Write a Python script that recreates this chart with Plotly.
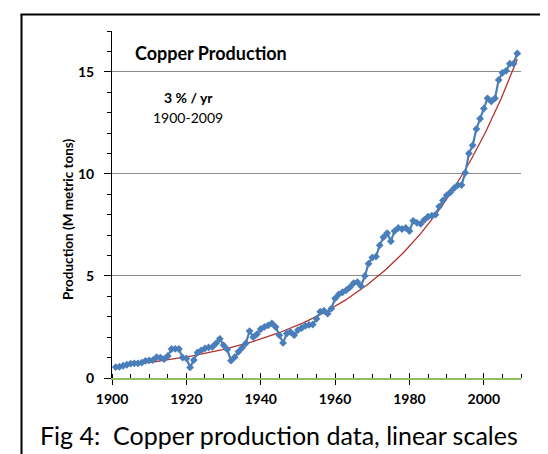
import numpy as np
import plotly.graph_objects as go

# ---- data ----
years = list(range(1901, 2010))
production = [
    0.53, 0.55, 0.60, 0.65, 0.70, 0.72, 0.72, 0.75, 0.84, 0.86,   # 1901-1910
    0.88, 1.02, 1.00, 0.92, 1.08, 1.42, 1.43, 1.42, 1.00, 0.96,   # 1911-1920
    0.52, 0.88, 1.25, 1.35, 1.45, 1.50, 1.52, 1.70, 1.92, 1.60,   # 1921-1930
    1.40, 0.85, 1.02, 1.28, 1.48, 1.70, 2.30, 2.00, 2.15, 2.40,   # 1931-1940
    2.50, 2.58, 2.68, 2.50, 2.10, 1.72, 2.18, 2.25, 2.10, 2.35,   # 1941-1950
    2.45, 2.55, 2.60, 2.62, 2.90, 3.25, 3.30, 3.15, 3.40, 3.90,   # 1951-1960
    4.10, 4.20, 4.30, 4.45, 4.65, 4.70, 4.50, 5.00, 5.60, 5.90,   # 1961-1970
    5.95, 6.50, 6.90, 7.10, 6.70, 7.20, 7.35, 7.30, 7.35, 7.20,   # 1971-1980
    7.70, 7.60, 7.55, 7.75, 7.90, 7.95, 8.00, 8.40, 8.70, 8.95,   # 1981-1990
    9.10, 9.30, 9.45, 9.45, 10.05, 11.00, 11.40, 12.20, 12.70, 13.20,  # 1991-2000
    13.70, 13.55, 13.70, 14.60, 14.95, 15.05, 15.40, 15.40, 15.90,     # 2001-2009
]
x_ticks = [1900, 1920, 1940, 1960, 1980, 2000]
y_ticks = [0, 5, 10, 15]

# exponential trend line as drawn
trend_years = [1901, 2009]
trend_start = 0.58     # value of the trend at 1901 (M t)
trend_rate = 0.0305    # continuous growth rate per year (~3 %/yr)

title_text = "Copper Production"
rate_text = "3 % / yr"
span_text = "1900-2009"
y_title = "Production (M metric tons)"
caption = "Fig 4:  Copper production data, linear scales"

fit_x = np.linspace(trend_years[0], trend_years[1], 200)
fit_y = trend_start * np.exp(trend_rate * (fit_x - trend_years[0]))

# ---- layout geometry (pixels) ----
W, H = 548, 454
L, R, T, B = 104, 35, 23, 84
pw, ph = W - L - R, H - T - B


def px(xp):
    return (xp - L) / pw


def py(yp):
    return (H - B - yp) / ph


FONT = "Lato"

fig = go.Figure()
fig.add_trace(go.Scatter(
    x=list(fit_x), y=list(fit_y), mode="lines",
    line=dict(color="#B5302C", width=1.3), hoverinfo="skip", showlegend=False))
fig.add_trace(go.Scatter(
    x=years, y=production, mode="lines+markers",
    line=dict(color="#4A7EBB", width=2.2),
    marker=dict(symbol="diamond", size=6, color="#4A7EBB"),
    showlegend=False))
# overlay axis for crossing major ticks on x
fig.add_trace(go.Scatter(x=[1900, 2010], y=[None, None], xaxis="x2", yaxis="y",
                         showlegend=False, hoverinfo="skip"))

fig.update_layout(
    width=W, height=H,
    margin=dict(l=L, r=R, t=T, b=B),
    paper_bgcolor="white", plot_bgcolor="white",
    font=dict(family=FONT, color="#000000"),
    xaxis=dict(
        range=[1900, 2010], tickvals=x_ticks, ticks="outside", ticklen=5,
        tickcolor="#000000", tickwidth=1,
        showline=True, linecolor="#8FBF5A", linewidth=1.5,
        showgrid=False, zeroline=False, ticklabelstandoff=2,
        tickfont=dict(family=FONT, size=14, color="#000000", weight="bold"),
        minor=dict(dtick=5, tick0=1900, ticks="inside", ticklen=4,
                   tickcolor="#000000", showgrid=False),
    ),
    xaxis2=dict(
        overlaying="x", range=[1900, 2010], tickvals=x_ticks, ticks="inside",
        ticklen=5, tickcolor="#000000", showticklabels=False, showline=False,
        showgrid=False, zeroline=False, side="bottom", anchor="y",
    ),
    yaxis=dict(
        range=[0, 17], tickvals=y_ticks, ticks="outside", ticklen=7,
        tickcolor="#000000", showline=True, linecolor="#000000", linewidth=1,
        showgrid=True, gridcolor="#8C8C8C", gridwidth=1, zeroline=False,
        ticklabelstandoff=7,
        tickfont=dict(family=FONT, size=14, color="#000000", weight="bold"),
        minor=dict(dtick=1, tick0=0, ticks="outside", ticklen=4,
                   tickcolor="#000000", showgrid=False),
    ),
    showlegend=False,
)

fig.add_annotation(xref="paper", yref="paper", x=px(125), y=py(45),
                   text=title_text, showarrow=False, xanchor="left", yanchor="middle",
                   font=dict(family=FONT, size=18, color="#000000", weight="bold"))
fig.add_annotation(xref="paper", yref="paper", x=px(180), y=py(90),
                   text=rate_text, showarrow=False, xanchor="center", yanchor="middle",
                   font=dict(family=FONT, size=14, color="#000000", weight="bold"))
fig.add_annotation(xref="paper", yref="paper", x=px(180), y=py(109),
                   text=span_text, showarrow=False, xanchor="center", yanchor="middle",
                   font=dict(family=FONT, size=14, color="#000000"))
fig.add_annotation(xref="paper", yref="paper", x=px(60), y=py(212),
                   text=y_title, showarrow=False, textangle=-90,
                   xanchor="center", yanchor="middle",
                   font=dict(family=FONT, size=13.5, color="#000000", weight="bold"))
fig.add_annotation(xref="paper", yref="paper", x=px(271), y=py(427),
                   text=caption, showarrow=False, xanchor="center", yanchor="middle",
                   font=dict(family=FONT, size=25, color="#000000"))

# frame lines (left and top)
fig.add_shape(type="line", xref="paper", yref="paper",
              x0=px(13.5), x1=px(13.5), y0=py(6.5), y1=py(H + 2),
              line=dict(color="#000000", width=2))
fig.add_shape(type="line", xref="paper", yref="paper",
              x0=px(12.5), x1=px(W + 2), y0=py(6.5), y1=py(6.5),
              line=dict(color="#000000", width=2))

fig.write_html("out.html")
